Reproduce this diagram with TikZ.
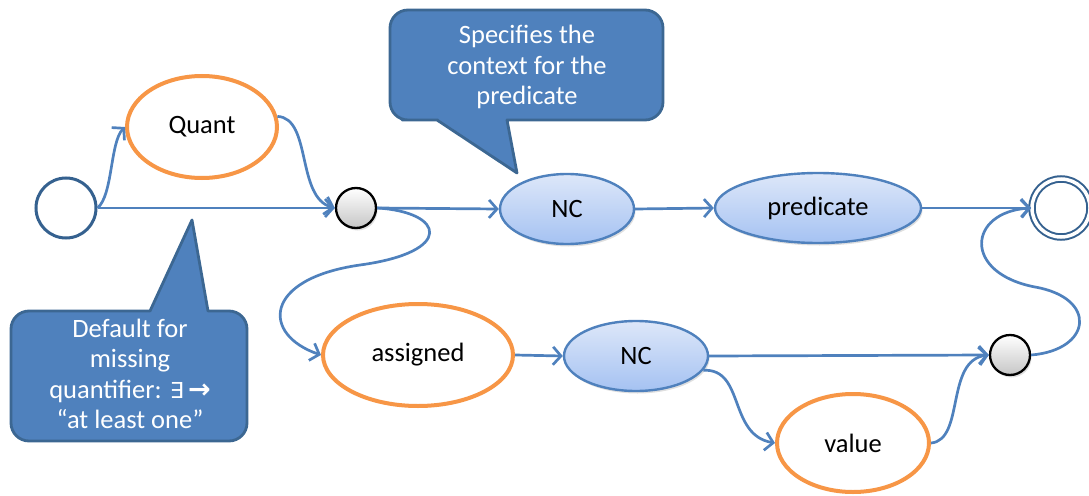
\documentclass[tikz,border=0pt]{standalone}
\usepackage{fontspec}
\setmainfont{Carlito}
\newfontfamily\dejavu{DejaVu Sans}
\usetikzlibrary{arrows.meta,shapes.geometric,shadows}
\definecolor{edgeblue}{HTML}{4F81BD}
\definecolor{darkblue}{HTML}{35618F}
\definecolor{orangeline}{HTML}{F79646}
\definecolor{calloutfill}{HTML}{4F81BD}
\definecolor{calloutline}{HTML}{3C6792}
\definecolor{nctop}{HTML}{DDE7F9}
\definecolor{ncbot}{HTML}{A5C2F2}
\tikzset{
  txt/.style={font=\fontsize{26.5}{30.5}\selectfont},
  edge/.style={draw=edgeblue, line width=2.7pt, -{Straight Barb[length=8pt,width=18pt,line width=2.7pt]}},
  startstate/.style={circle, draw=darkblue, line width=3pt, minimum size=60pt, inner sep=0pt, fill=white},
  finalstate/.style={circle, draw=darkblue, line width=2pt, double=white, double distance=3.5pt, minimum size=58pt, inner sep=0pt},
  junction/.style={circle, draw=black, line width=2.3pt, minimum size=40pt, inner sep=0pt, top color=white, bottom color=gray!45,
     drop shadow={opacity=0.25, shadow xshift=1.5pt, shadow yshift=-2.5pt}},
  optional/.style={ellipse, draw=orangeline, line width=4pt, fill=white, inner sep=0pt, txt},
  ncnode/.style={ellipse, draw=edgeblue, line width=2.4pt, top color=nctop, bottom color=ncbot, inner sep=0pt, txt,
     minimum height=70pt, drop shadow={opacity=0.25, shadow xshift=1.5pt, shadow yshift=-2.5pt}},
  callout/.style={fill=calloutfill, draw=calloutline, line width=2.8pt, line join=round},
  callouttext/.style={txt, text=white, align=center}
}
\begin{document}
\begin{tikzpicture}[x=1pt,y=-1pt]
\useasboundingbox (0,0) rectangle (1089,495);

% callouts
\draw[callout] (437,120) -- (517,173) -- (507,120) -- (520,120) [rounded corners=18pt] -- (663,120) -- (663,10) -- (390,10) -- (390,120) -- (420,120) [sharp corners] -- cycle;
\node[callouttext] (c1) at (527,67) {Specifies the\\context for the\\predicate};

\draw[callout] (150,311) -- (192,220) -- (208,311) -- (222,311) [rounded corners=18pt] -- (247,311) -- (247,441) -- (11,441) -- (11,311) -- (130,311) [sharp corners] -- cycle;
\node[callouttext] (c2) at (130,374) {Default for\\missing\\quantifier: {\dejavu\fontsize{22}{30}\selectfont ∃}\,{\dejavu\bfseries\fontsize{27}{30}\selectfont →}\\“at least one”};

% states
\node[startstate] (start) at (66,208) {};
\node[optional, minimum width=150pt, minimum height=102pt] (quant) at (202,127) {Quant};
\node[junction] (g1) at (356,208) {};
\node[ncnode, minimum width=134pt] (nc1) at (567,209) {NC};
\node[ncnode, minimum width=206pt] (pred) at (818,208) {predicate};
\node[finalstate] (final) at (1061,208) {};
\node[optional, minimum width=190pt, minimum height=102pt] (assigned) at (418,355) {assigned};
\node[ncnode, minimum width=144pt] (nc2) at (636,356) {NC};
\node[junction] (g2) at (1010,355) {};
\node[optional, minimum width=152pt, minimum height=98pt] (value) at (853,443) {value};

% edges
\draw[edge] (start.east) .. controls (113,195) and (110,142) .. (quant.west);
\draw[edge] (start.east) -- (g1.west);
\draw[edge] (quant.8) .. controls (312,118) and (296,198) .. (g1.west);
\draw[edge] (g1.east) -- (nc1.west);
\draw[edge] (g1.east) .. controls (445,212) and (455,252) .. (360,265) .. controls (262,279) and (262,335) .. (assigned.west);
\draw[edge] (nc1.east) -- (pred.west);
\draw[edge] (pred.east) -- (final.west);
\draw[edge] (assigned.east) -- (nc2.west);
\draw[edge] (nc2.east) -- (g2.west);
\draw[edge] (nc2.-12) .. controls (745,368) and (728,435) .. (value.west);
\draw[edge] (value.east) .. controls (965,440) and (945,360) .. (g2.west);
\draw[edge] (g2.east) .. controls (1092,350) and (1098,298) .. (1035,287) .. controls (962,273) and (968,212) .. (final.west);
\end{tikzpicture}
\end{document}
